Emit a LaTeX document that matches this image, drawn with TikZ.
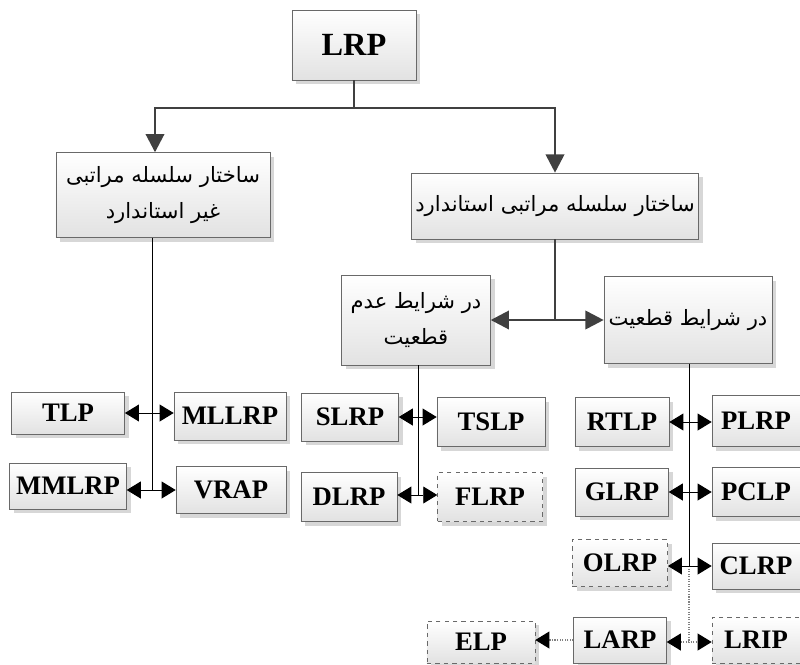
\documentclass[tikz,border=0pt]{standalone}
\usepackage{fontspec}
\setmainfont{Liberation Serif}
\newfontfamily\farsi[Script=Arabic]{DejaVu Sans}
\TeXXeTstate=1
\usepackage{tikz}
\usetikzlibrary{arrows.meta,positioning,shadows}
\definecolor{boxline}{RGB}{105,105,105}
\definecolor{boxbot}{RGB}{226,226,226}
\definecolor{shadegray}{RGB}{215,215,215}
\definecolor{linkgray}{RGB}{64,64,64}

\begin{document}
\begin{tikzpicture}[
  x=0.025cm, y=-0.025cm,
  lbox/.style={draw=boxline, top color=white, bottom color=boxbot,
              drop shadow={shadow xshift=3pt, shadow yshift=-3pt,
                           fill=shadegray, opacity=1},
              minimum width=2.4cm, minimum height=1.2cm, inner sep=2pt,
              font=\fontsize{19}{21}\selectfont\bfseries, text centered},
  dbox/.style={lbox, dashed},
  pbox/.style={lbox, font=\farsi\fontsize{15}{25}\selectfont, align=center},
  mainline/.style={line width=2pt, linkgray},
  mainarr/.style={mainline, -{Triangle[length=13pt,width=13pt]}},
  thinline/.style={line width=0.7pt, black},
  dotline/.style={line width=0.8pt, gray, densely dotted},
  biarr/.style={thinline, {Triangle[length=10pt,width=12pt]}-{Triangle[length=10pt,width=12pt]}},
  dotbiarr/.style={dotline, {Triangle[length=10pt,width=12pt,color=black]}-{Triangle[length=10pt,width=12pt,color=black]}},
  dotarr/.style={dotline, -{Triangle[length=10pt,width=12pt,color=black]}},
]
\useasboundingbox (0,0) rectangle (800,664);

%% --- Top levels ---
\node[lbox, minimum width=3.1cm, minimum height=1.75cm,
      font=\fontsize{23}{25}\selectfont\bfseries] (lrp) at (354,45) {LRP};
\node[pbox, minimum width=5.35cm, minimum height=2.12cm] (nonstd) at (163,195)
  {\beginR ساختار سلسله مراتبی\endR\\ \beginR غیر استاندارد\endR};
\node[pbox, minimum width=7.18cm, minimum height=1.65cm] (std) at (555,206)
  {\beginR ساختار سلسله مراتبی استاندارد\endR};
\node[pbox, minimum width=3.72cm, minimum height=2.25cm] (uncert) at (416,320)
  {\beginR در شرایط عدم\endR\\ \beginR قطعیت\endR};
\node[pbox, minimum width=4.2cm, minimum height=2.17cm] (cert) at (688,320)
  {\beginR در شرایط قطعیت\endR};

\coordinate (tj) at (354,108);
\draw[mainline] (lrp.south) -- (tj);
\draw[mainarr] (tj) -| ([xshift=-0.2cm]nonstd.north);
\draw[mainarr] (tj) -| (std.north);

\coordinate (mj) at (555,320);
\draw[mainline] (std.south) -- (mj);
\draw[mainarr] (mj) -- (uncert.east);
\draw[mainarr] (mj) -- (cert.west);

%% --- Left column ---
\node[lbox, minimum width=2.83cm, minimum height=1.05cm] (tlp) at (68,413) {TLP};
\node[lbox, minimum width=2.8cm] (mllrp) at (230,416) {MLLRP};
\node[lbox, minimum width=2.92cm, minimum height=1.15cm] (mmlrp) at (68,486) {MMLRP};
\node[lbox, minimum width=2.75cm, minimum height=1.18cm] (vrap) at (231,490) {VRAP};

\coordinate (lc) at (152,490);
\draw[thinline] (nonstd.south -| lc) -- (lc);
\draw[biarr] (tlp.east) -- (tlp.east -| mllrp.west);
\draw[biarr] (mmlrp.east |- lc) -- (lc -| vrap.west);

%% --- Middle column ---
\node[lbox, minimum width=2.42cm] (slrp) at (350,417) {SLRP};
\node[lbox, minimum width=2.7cm, minimum height=1.22cm] (tslp) at (491,422) {TSLP};
\node[lbox, minimum width=2.4cm, minimum height=1.22cm] (dlrp) at (349,497) {DLRP};
\node[dbox, minimum width=2.62cm, minimum height=1.22cm] (flrp) at (490,497) {FLRP};

\coordinate (mc) at (418,495);
\draw[thinline] (uncert.south -| mc) -- (mc);
\draw[biarr] (slrp.east) -- (slrp.east -| tslp.west);
\draw[biarr] (dlrp.east |- mc) -- (mc -| flrp.west);

%% --- Right column ---
\node[lbox, minimum width=2.35cm, minimum height=1.22cm] (rtlp) at (622,422) {RTLP};
\node[lbox, minimum width=2.2cm, minimum height=1.27cm] (plrp) at (756,421) {PLRP};
\node[lbox, minimum width=2.32cm] (glrp) at (622,492) {GLRP};
\node[lbox, minimum width=2.2cm, minimum height=1.22cm] (pclp) at (756,492) {PCLP};
\node[dbox, minimum width=2.38cm, minimum height=1.18cm] (olrp) at (620,563) {OLRP};
\node[lbox, minimum width=2.2cm, minimum height=1.15cm] (clrp) at (756,566) {CLRP};
\node[lbox, minimum width=2.32cm, minimum height=1.15cm] (larp) at (620,640) {LARP};
\node[dbox, minimum width=2.2cm, minimum height=1.15cm] (lrip) at (756,640) {LRIP};
\node[dbox, minimum width=2.7cm, minimum height=1.05cm] (elp) at (481,642) {ELP};

\coordinate (rc) at (689,566);
\coordinate (rd) at (689,642);
\draw[thinline] (cert.south -| rc) -- (rc);
\draw[dotline] (rc) -- (rd);
\draw[biarr] (rtlp.east) -- (rtlp.east -| plrp.west);
\draw[biarr] (glrp.east) -- (glrp.east -| pclp.west);
\draw[biarr] (olrp.east |- rc) -- (rc -| clrp.west);
\draw[dotbiarr] (larp.east |- rd) -- (rd -| lrip.west);
\draw[dotarr] (larp.west) -- (larp.west -| elp.east);

\end{tikzpicture}
\end{document}
